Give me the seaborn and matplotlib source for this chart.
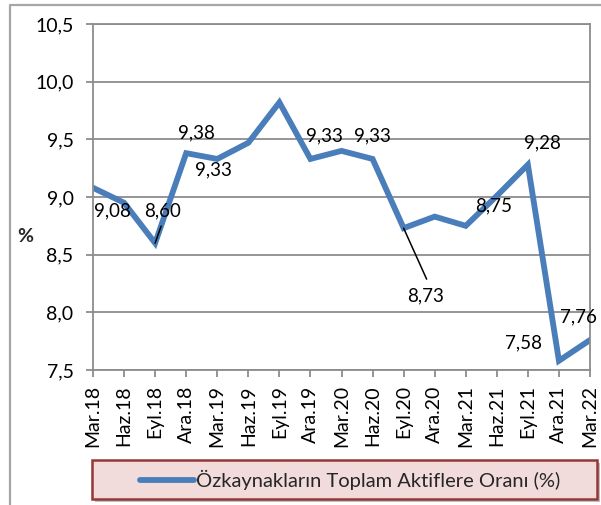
import matplotlib
matplotlib.use("Agg")
import matplotlib.pyplot as plt
from matplotlib.lines import Line2D
from matplotlib.patches import Rectangle
import pandas as pd
import seaborn as sns

# Quarterly equity-to-total-assets ratio
periods = ["Mar.18", "Haz.18", "Eyl.18", "Ara.18", "Mar.19", "Haz.19", "Eyl.19",
           "Ara.19", "Mar.20", "Haz.20", "Eyl.20", "Ara.20", "Mar.21", "Haz.21",
           "Eyl.21", "Ara.21", "Mar.22"]
ratio = [9.08, 8.95, 8.60, 9.38, 9.33, 9.47, 9.82, 9.33, 9.40, 9.33, 8.73, 8.83,
         8.75, 9.01, 9.28, 7.58, 7.76]
series_name = "Özkaynakların Toplam Aktiflere Oranı (%)"
y_ticks = [7.5, 8.0, 8.5, 9.0, 9.5, 10.0, 10.5]

# Labelled points: index -> (dx, dy) label offset in pixels, leader line flag
labelled = {0: (19, -23, False), 2: (7, 32, True), 3: (10, 20, False),
            4: (-4, -11, False), 7: (14, 23, False), 9: (0, 23, False),
            10: (22, -68, True), 12: (28, 20, False), 14: (15, 22, False),
            15: (-35, 18, False), 16: (-12, 23, False)}

sns.set_style("white")
plt.rcParams["font.family"] = ["Lato", "DejaVu Sans"]

W, H = 601, 505
fig = plt.figure(figsize=(W / 100, H / 100), dpi=100)
ax = fig.add_axes([93 / W, 1 - 370 / H, (590 - 93) / W, (370 - 24) / H])

df = pd.DataFrame({"period": periods, "ratio": ratio, "x": range(len(periods))})
line_color = "#4A7EBB"
sns.lineplot(data=df, x="x", y="ratio", ax=ax, color=line_color, linewidth=4.2,
             label=series_name, legend=False, solid_joinstyle="miter")

grid_c = "#8C8C8C"
ax.set_xlim(0, len(periods) - 1)
ax.set_ylim(y_ticks[0], y_ticks[-1])
ax.set_yticks(y_ticks)
ax.set_yticklabels([f"{t:.1f}".replace(".", ",") for t in y_ticks], fontsize=14)
ax.set_xticks(range(len(periods)))
ax.set_xticklabels(periods, rotation=90, fontsize=14)
ax.set_xlabel("")
ax.set_ylabel("")
ax.yaxis.grid(True, color=grid_c, linewidth=1.3)
ax.xaxis.grid(False)
for s in ax.spines.values():
    s.set_color(grid_c)
    s.set_linewidth(1.3)
ax.tick_params(axis="both", which="major", length=5, width=1.3, color=grid_c,
               direction="out", labelcolor="black")
ax.tick_params(axis="y", left=True, pad=9)
ax.tick_params(axis="x", bottom=True, pad=6)

for i, (dx, dy, leader) in labelled.items():
    txt = f"{ratio[i]:.2f}".replace(".", ",")
    ax.annotate(txt, xy=(i, ratio[i]), xytext=(dx, dy), textcoords="offset pixels",
                ha="center", va="center", fontsize=13.5, color="black")
    if leader:
        ex, ey = (6, 17) if dy > 0 else (23, -51)
        ax.annotate("", xy=(i, ratio[i]), xytext=(ex, ey), textcoords="offset pixels",
                    arrowprops=dict(arrowstyle="-", color="black", lw=1.1,
                                    shrinkA=0, shrinkB=0))

fig.text(25 / W, 1 - 236 / H, "%", fontsize=14, fontweight="bold",
         ha="center", va="center")

# Outer chart border (left and top edges)
fig.add_artist(Line2D([9.5 / W, 9.5 / W, 1.0], [0.0, 1 - 5 / H, 1 - 5 / H],
                      transform=fig.transFigure, color="#A6A6A6", lw=1.6))

# Legend box with shadow
bx0, bx1, by0, by1 = 92, 597, 460, 499
fig.add_artist(Rectangle(((bx0 + 3) / W, 1 - (by1 + 3) / H), (bx1 - bx0) / W,
                         (by1 - by0) / H, transform=fig.transFigure,
                         facecolor="#BFBFBF", edgecolor="none"))
fig.add_artist(Rectangle((bx0 / W, 1 - by1 / H), (bx1 - bx0) / W, (by1 - by0) / H,
                         transform=fig.transFigure, facecolor="#F2DCDB",
                         edgecolor="#953735", linewidth=1.8))
handle = Line2D([], [], color=line_color, linewidth=4.2, solid_capstyle="round")
fig.legend([handle], [series_name], loc="center left",
           bbox_to_anchor=(140 / W, 1 - 480 / H), frameon=False, fontsize=14.5,
           handlelength=2.7, handletextpad=0.1, borderpad=0, borderaxespad=0)

fig.savefig("out.png", dpi=100)
